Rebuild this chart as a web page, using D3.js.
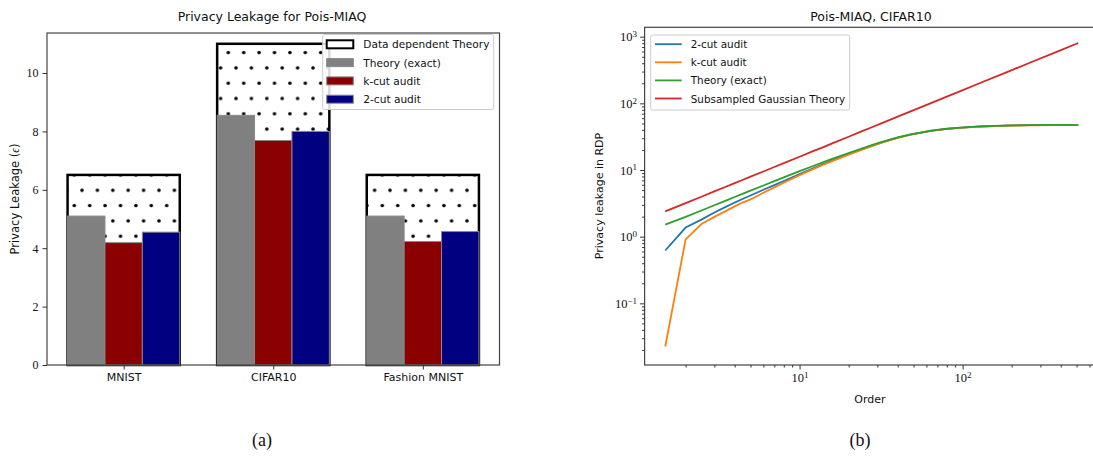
<!DOCTYPE html>
<html>
<head>
<meta charset="utf-8">
<script src="https://cdn.jsdelivr.net/npm/d3@7"></script>
<style>
  body { margin: 0; background: #fff; }
  svg text { fill: #111; }
  .sans { font-family: "DejaVu Sans", sans-serif; }
  .serif { font-family: "Liberation Serif", serif; }
</style>
</head>
<body>
<div id="chart"></div>
<script>
// ---- (a) bar data ----
var categories = ["MNIST", "CIFAR10", "Fashion MNIST"];
var dataDependent = [6.51, 11.0, 6.51];
var theoryExact = [5.1, 8.55, 5.1];
var kCutAudit = [4.19, 7.69, 4.23];
var twoCutAudit = [4.55, 8.0, 4.57];
var barTicks = [0, 2, 4, 6, 8, 10];

// ---- (b) RDP curves ----
var orders = [1.5, 2, 2.5, 3, 3.5, 4, 4.5, 5, 6, 7, 8, 10, 12, 14, 16, 20, 24, 28, 32, 40, 48, 64, 80, 96, 128, 192, 256, 384, 512];
var rdpTwoCut = [0.62, 1.37, 1.80, 2.30, 2.78, 3.25, 3.70, 4.15, 5.05, 5.95, 6.85, 8.7, 10.5, 12.3, 14.0, 17.3, 20.4, 23.3, 26.0, 30.6, 34.0, 38.7, 41.4, 43.0, 45.0, 46.5, 47.0, 47.4, 47.6];
var rdpKCut = [0.0225, 0.91, 1.55, 1.98, 2.40, 2.85, 3.28, 3.62, 4.55, 5.5, 6.45, 8.4, 10.2, 12.0, 13.7, 17.0, 20.1, 23.0, 25.7, 30.4, 33.9, 38.6, 41.3, 42.9, 44.9, 46.4, 46.9, 47.3, 47.5];
var rdpTheory = [1.52, 1.98, 2.47, 2.96, 3.45, 3.94, 4.42, 4.9, 5.86, 6.8, 7.75, 9.6, 11.4, 13.1, 14.8, 18.0, 21.0, 23.8, 26.4, 30.9, 34.3, 38.9, 41.6, 43.2, 45.1, 46.6, 47.1, 47.5, 47.7];
var rdpGaussian = [2.39, 3.18, 3.97, 4.77, 5.56, 6.35, 7.14, 7.94, 9.5, 11.1, 12.7, 15.8, 19.0, 22.1, 25.3, 31.6, 37.9, 44.2, 50.5, 63.1, 75.7, 101, 126, 151, 202, 302, 403, 604, 805];
var rdpMajorTicks = [-1, 0, 1, 2, 3];   // exponents
var orderMajorTicks = [1, 2];

var W = 1093, H = 456;
var svg = d3.select("#chart").append("svg")
    .attr("width", W).attr("height", H);

var defs = svg.append("defs");

// dot hatch for "Data dependent Theory"
var pw = 15.4, ph = 30.6;
var pat = defs.append("pattern")
    .attr("id", "dots")
    .attr("patternUnits", "userSpaceOnUse")
    .attr("x", 82).attr("y", 190.3)
    .attr("width", pw).attr("height", ph);
pat.append("rect").attr("width", pw).attr("height", ph).attr("fill", "#fff");
[[0, 0], [pw, 0], [0, ph], [pw, ph], [pw / 2, ph / 2]].forEach(function(p) {
    pat.append("circle").attr("cx", p[0]).attr("cy", p[1]).attr("r", 1.8).attr("fill", "#000");
});

/* ================= (a) bar chart ================= */
var a = svg.append("g");
var xA = d3.scaleLinear().domain([-0.5125, 2.5125]).range([47, 499.5]);
var yA = d3.scaleLinear().domain([0, 11.37]).range([365, 33]);
var bw = 0.25;

a.selectAll(".dd").data(dataDependent).enter().append("rect")
    .attr("x", function(d, i) { return xA(i - 1.5 * bw); })
    .attr("y", function(d) { return yA(d); })
    .attr("width", xA(3 * bw) - xA(0))
    .attr("height", function(d) { return yA(0) - yA(d); })
    .attr("fill", "url(#dots)")
    .attr("stroke", "#000")
    .attr("stroke-width", 2.5);

var barSeries = [
    {vals: theoryExact, color: "#808080", off: -1},
    {vals: kCutAudit, color: "#8b0000", off: 0},
    {vals: twoCutAudit, color: "#000080", off: 1}
];
barSeries.forEach(function(s) {
    a.selectAll(null).data(s.vals).enter().append("rect")
        .attr("x", function(d, i) { return xA(i + s.off * bw - bw / 2); })
        .attr("y", function(d) { return yA(d); })
        .attr("width", xA(bw) - xA(0))
        .attr("height", function(d) { return yA(0) - yA(d); })
        .attr("fill", s.color)
        .attr("stroke", "#888")
        .attr("stroke-width", 1);
});

// frame
a.append("rect")
    .attr("x", xA.range()[0]).attr("y", yA.range()[1])
    .attr("width", xA.range()[1] - xA.range()[0])
    .attr("height", yA.range()[0] - yA.range()[1])
    .attr("fill", "none").attr("stroke", "#444").attr("stroke-width", 1.2);

var axA = a.append("g").attr("transform", "translate(0," + yA(0) + ")")
    .call(d3.axisBottom(xA).tickValues([0, 1, 2]).tickSize(4.5).tickPadding(4)
        .tickFormat(function(d) { return categories[d]; }));
axA.select(".domain").remove();
axA.selectAll("text").attr("class", "sans").style("font-size", "11px").attr("fill", "#111");

var ayA = a.append("g").attr("transform", "translate(" + xA.range()[0] + ",0)")
    .call(d3.axisLeft(yA).tickValues(barTicks).tickSize(4.5).tickPadding(4));
ayA.select(".domain").remove();
ayA.selectAll("text").attr("class", "serif").style("font-size", "12px").attr("fill", "#111");

a.append("text").attr("class", "sans")
    .attr("x", 272).attr("y", 21).attr("text-anchor", "middle")
    .style("font-size", "12.5px").text("Privacy Leakage for Pois-MIAQ");

var ylA = a.append("text").attr("class", "sans")
    .attr("transform", "translate(14.5,199) rotate(-90)")
    .attr("text-anchor", "middle").attr("dominant-baseline", "central")
    .style("font-size", "11.5px");
ylA.append("tspan").text("Privacy Leakage (");
ylA.append("tspan").attr("class", "serif").style("font-style", "italic").text("\u03f5");
ylA.append("tspan").text(")");

// legend (a)
var legA = a.append("g").attr("transform", "translate(322.7,34.5)");
legA.append("rect").attr("width", 171).attr("height", 75).attr("rx", 2)
    .attr("fill", "#fff").attr("fill-opacity", 0.85).attr("stroke", "#ccc");
var legAItems = [
    {label: "Data dependent Theory", fill: "#fff", stroke: "#000", sw: 2},
    {label: "Theory (exact)", fill: "#808080", stroke: "#888", sw: 1},
    {label: "k-cut audit", fill: "#8b0000", stroke: "#888", sw: 1},
    {label: "2-cut audit", fill: "#000080", stroke: "#888", sw: 1}
];
legAItems.forEach(function(it, i) {
    var cy = 9.8 + i * 18.3;
    legA.append("rect").attr("x", 4).attr("y", cy - 4).attr("width", 26.6).attr("height", 8)
        .attr("fill", it.fill).attr("stroke", it.stroke).attr("stroke-width", it.sw);
    legA.append("text").attr("class", "sans").attr("x", 40.6).attr("y", cy)
        .attr("dominant-baseline", "central").style("font-size", "10.6px").text(it.label);
});

/* ================= (b) log-log lines ================= */
var b = svg.append("g");
var xB = d3.scaleLog().domain([1.1205, 685.5]).range([644.6, 1098.9]);
var yB = d3.scaleLog().domain([Math.pow(10, -1.925), Math.pow(10, 3.141)]).range([365, 27.3]);

var lineSeries = [
    {label: "2-cut audit", vals: rdpTwoCut, color: "#1f77b4"},
    {label: "k-cut audit", vals: rdpKCut, color: "#ff7f0e"},
    {label: "Theory (exact)", vals: rdpTheory, color: "#2ca02c"},
    {label: "Subsampled Gaussian Theory", vals: rdpGaussian, color: "#d62728"}
];
var line = d3.line()
    .x(function(d) { return xB(d[0]); })
    .y(function(d) { return yB(d[1]); });
lineSeries.forEach(function(s) {
    b.append("path")
        .datum(orders.map(function(o, i) { return [o, s.vals[i]]; }))
        .attr("d", line)
        .attr("fill", "none").attr("stroke", s.color).attr("stroke-width", 1.8);
});

b.append("rect")
    .attr("x", xB.range()[0]).attr("y", yB.range()[1])
    .attr("width", xB.range()[1] - xB.range()[0])
    .attr("height", yB.range()[0] - yB.range()[1])
    .attr("fill", "none").attr("stroke", "#444").attr("stroke-width", 1.2);

// minor ticks
function minorTicks(scale) {
    var dom = scale.domain(), out = [];
    for (var e = -3; e <= 3; e++) {
        for (var m = 2; m <= 9; m++) {
            var v = m * Math.pow(10, e);
            if (v > dom[0] && v < dom[1]) out.push(v);
        }
    }
    return out;
}
var gxMinor = b.append("g").attr("transform", "translate(0," + yB.range()[0] + ")")
    .call(d3.axisBottom(xB).tickValues(minorTicks(xB)).tickSize(2.5).tickFormat(""));
gxMinor.select(".domain").remove();
var gyMinor = b.append("g").attr("transform", "translate(" + xB.range()[0] + ",0)")
    .call(d3.axisLeft(yB).tickValues(minorTicks(yB)).tickSize(2.5).tickFormat(""));
gyMinor.select(".domain").remove();

function powLabel(sel) {
    sel.each(function(e) {
        var t = d3.select(this).text(null).attr("class", "serif").style("font-size", "12.5px").attr("fill", "#111");
        t.append("tspan").text("10");
        t.append("tspan").attr("dy", "-0.45em").style("font-size", "9px").text(e < 0 ? "\u2212" + (-e) : e);
    });
}
var gx = b.append("g").attr("transform", "translate(0," + yB.range()[0] + ")")
    .call(d3.axisBottom(xB).tickValues(orderMajorTicks.map(function(e) { return Math.pow(10, e); }))
        .tickSize(4.5).tickPadding(4));
gx.select(".domain").remove();
gx.selectAll("text").data(orderMajorTicks).call(powLabel);

var gy = b.append("g").attr("transform", "translate(" + xB.range()[0] + ",0)")
    .call(d3.axisLeft(yB).tickValues(rdpMajorTicks.map(function(e) { return Math.pow(10, e); }))
        .tickSize(4.5).tickPadding(3));
gy.select(".domain").remove();
gy.selectAll("text").data(rdpMajorTicks).call(powLabel);

b.append("text").attr("class", "sans")
    .attr("x", 871).attr("y", 21).attr("text-anchor", "middle")
    .style("font-size", "12.5px").text("Pois-MIAQ, CIFAR10");
b.append("text").attr("class", "sans")
    .attr("x", 870).attr("y", 403).attr("text-anchor", "middle")
    .style("font-size", "11px").text("Order");
b.append("text").attr("class", "sans")
    .attr("transform", "translate(599,196) rotate(-90)")
    .attr("text-anchor", "middle").attr("dominant-baseline", "central")
    .style("font-size", "11px").text("Privacy leakage in RDP");

// legend (b)
var legB = b.append("g").attr("transform", "translate(650.7,35)");
legB.append("rect").attr("width", 199).attr("height", 75).attr("rx", 2)
    .attr("fill", "#fff").attr("fill-opacity", 0.85).attr("stroke", "#ccc");
lineSeries.forEach(function(s, i) {
    var cy = 9.2 + i * 18.1;
    legB.append("line").attr("x1", 4.3).attr("x2", 31).attr("y1", cy).attr("y2", cy)
        .attr("stroke", s.color).attr("stroke-width", 1.8);
    legB.append("text").attr("class", "sans").attr("x", 40).attr("y", cy)
        .attr("dominant-baseline", "central").style("font-size", "10.4px").text(s.label);
});

// sub-captions
svg.append("text").attr("class", "serif").attr("x", 262).attr("y", 446)
    .attr("text-anchor", "middle").style("font-size", "18px").text("(a)");
svg.append("text").attr("class", "serif").attr("x", 860).attr("y", 446)
    .attr("text-anchor", "middle").style("font-size", "18px").text("(b)");

svg.selectAll(".tick line").attr("stroke", "#333");
</script>
</body>
</html>
